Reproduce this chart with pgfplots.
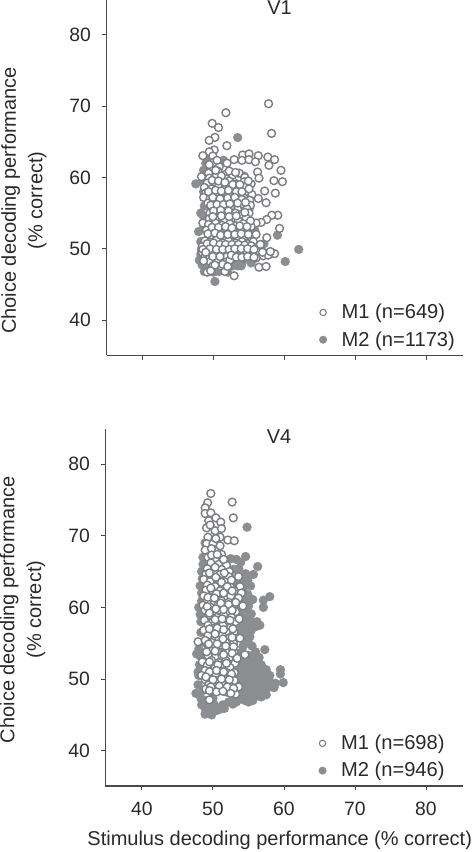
\documentclass[border=0pt]{standalone}
\usepackage{pgfplots}
\pgfplotsset{compat=1.18}
\usepackage{fontspec}
\setmainfont{Liberation Sans}
\definecolor{txt}{HTML}{2A2A2A}
\definecolor{axc}{HTML}{4A4A4A}
\definecolor{gfill}{HTML}{8B8D90}
\definecolor{wline}{HTML}{7C7E82}
\pgfplotsset{
 panel/.style={
  scale only axis, axis lines=left, axis line style={draw=axc,line width=0.8pt,-},
  tick style={draw=axc,line width=0.7pt}, tick align=outside, major tick length=3.2pt,
  xtick={40,50,60,70,80}, ytick={40,50,60,70,80},
  tick label style={font=\fontsize{14.5}{16}\selectfont,text=txt,/pgf/number format/assume math mode=true},
  yticklabel style={xshift=-5pt},
  xticklabel style={yshift=-5pt},
  label style={font=\fontsize{15}{20}\selectfont,text=txt},
  ylabel style={align=center,anchor=center,rotate=0},
  clip=false,
  legend cell align=left,
  legend style={draw=none,fill=none,font=\fontsize{15.1}{16}\selectfont,text=txt,row sep=4.0pt,inner sep=0pt},
 },
 wpt/.style={only marks,mark=*,mark size=2.95pt,mark options={draw=wline,fill=white,line width=1.05pt}},
 gpt/.style={only marks,mark=*,mark size=3.4pt,mark options={draw=gfill,fill=gfill,line width=0.1pt}},
 wleg/.style={only marks,mark=*,mark size=2.4pt,mark options={draw=wline,fill=white,line width=0.8pt}},
 gleg/.style={only marks,mark=*,mark size=2.9pt,mark options={draw=gfill,fill=gfill,line width=0.1pt}},
}
\begin{document}
\begin{tikzpicture}
\path[use as bounding box] (0,0) rectangle (354pt,639pt);
\begin{axis}[panel, at={(79.9pt,372.4pt)}, anchor=south west, width=267pt, height=266.6pt,
  xmin=34.93, xmax=85.07, ymin=35.02, ymax=84.9, xticklabels={},
  ylabel={Choice decoding performance\\(\% correct)},
  ylabel style={at={(axis description cs:-0.232,0.436)}},
  legend style={at={(axis cs:64.85,35.65)},anchor=south west}]
\addlegendimage{wleg}\addlegendentry{\hspace*{9pt}M1 (n=649)}
\addlegendimage{gleg}\addlegendentry{\hspace*{9pt}M2 (n=1173)}
\addplot[gpt,forget plot] table {
53.4 65.6
47.5 59.1
51.4 62.4
54.3 60.2
48.6 61.0
48.5 54.7
47.9 52.4
59.0 51.9
62.0 49.9
60.1 48.2
50.2 45.4
48.0 48.4
48.4 47.7
48.9 47.0
50.4 47.2
51.5 47.0
54.0 48.0
55.3 48.0
57.1 50.7
48.2 49.2
48.7 46.8
48.6 58.0
48.9 62.0
48.7 56.0
49.0 54.0
48.5 50.5
49.6 47.3
52.7 47.6
53.4 47.6
55.8 52.6
56.6 50.0
52.0 55.0
53.0 58.0
55.0 55.5
48.4 59.5
48.7 60.0
48.2 51.0
48.3 49.9
48.6 53.0
48.2 55.0
49.5 62.5
50.0 46.7
50.8 46.8
52.0 46.7
53.9 47.6
};
\addplot[wpt,forget plot] table {
57.75 70.34
51.74 69.08
49.81 67.59
50.7 67.0
58.17 66.18
50.19 65.62
49.39 65.2
51.88 64.45
50.1 63.85
49.4 63.6
48.5 63.05
49.9 63.0
54.1 63.15
55.0 63.3
56.3 63.05
57.65 62.86
58.6 62.5
57.8 61.7
59.5 61.0
56.2 60.76
56.4 59.9
58.5 59.55
59.7 59.4
58.7 57.8
57.2 58.1
56.3 57.05
57.4 56.45
59.05 54.7
58.2 54.7
57.5 54.1
56.7 53.7
59.3 52.85
57.5 51.55
50.0 62.1
51.9 62.0
52.9 62.5
54.0 62.4
55.0 62.5
55.9 62.2
50.8 61.5
49.6 61.1
49.3 60.6
50.6 60.9
51.6 60.4
53.6 60.6
48.3 60.1
49.4 59.9
50.4 60.2
51.8 59.8
52.7 60.3
54.4 60.0
49.1 59.2
50.1 59.4
51.1 59.0
52.2 59.5
53.2 59.1
54.3 59.4
55.3 59.1
48.7 58.6
49.7 58.4
50.7 58.7
51.5 58.3
52.6 58.7
53.6 58.4
54.6 58.7
48.9 57.8
50.1 57.6
50.9 58.0
52.0 57.7
53.0 58.0
54.4 57.8
55.4 57.6
48.6 57.2
49.5 57.0
50.3 57.3
51.4 56.9
52.5 57.3
53.5 56.9
54.3 57.1
55.1 56.8
49.2 56.4
50.0 56.6
51.0 56.3
51.8 56.6
52.9 56.2
54.1 56.3
55.2 56.1
49.7 55.7
50.6 55.9
51.5 55.6
52.4 55.7
53.4 55.5
54.7 55.6
49.5 55.0
50.5 55.2
51.4 54.9
52.6 55.0
53.8 54.8
55.0 55.0
49.4 54.2
50.7 54.4
51.6 54.0
52.8 54.3
53.5 53.9
54.6 54.3
56.0 53.6
48.5 53.6
49.3 53.4
50.3 53.6
51.2 53.3
52.3 53.5
53.2 53.2
54.2 53.5
55.3 53.1
49.0 52.6
50.0 52.8
51.0 52.5
51.8 52.8
52.8 52.4
53.8 52.7
54.8 52.3
49.5 51.8
50.5 52.0
51.3 51.6
52.5 51.9
53.5 51.5
54.4 51.8
55.3 51.6
56.0 52.0
48.8 51.1
49.6 50.9
50.4 51.2
51.3 50.8
52.1 51.1
53.1 50.8
54.0 51.0
54.8 50.7
55.6 51.0
48.4 50.3
49.1 50.1
50.0 50.4
50.9 50.0
51.8 50.3
52.6 50.1
53.4 50.3
54.3 50.1
55.2 50.4
56.0 50.1
48.4 49.5
49.2 49.4
49.9 49.7
50.6 49.3
51.4 49.6
52.2 49.3
53.0 49.6
53.9 49.4
54.7 49.6
55.4 49.3
56.5 49.6
57.2 49.4
58.2 49.4
58.6 49.3
48.8 48.9
49.5 48.7
50.3 48.9
51.1 48.7
51.9 48.9
52.7 48.6
53.5 48.9
54.3 48.7
55.3 48.9
56.0 48.7
57.0 49.0
57.7 49.1
49.5 48.2
50.6 48.2
51.7 48.1
52.3 48.4
49.1 46.7
51.6 46.8
52.9 46.2
56.4 47.4
57.4 47.5
49.9 47.6
51.0 47.6
50.5 62.4
49.4 61.8
50.3 61.0
51.1 60.2
52.2 60.9
53.1 60.7
49.8 59.6
50.7 59.5
51.6 59.3
52.7 59.0
53.7 59.0
54.9 59.5
49.3 58.0
50.3 58.2
51.1 58.1
52.1 58.2
53.2 58.0
54.0 58.0
55.0 58.4
49.9 57.2
50.9 57.0
52.0 57.1
53.0 57.2
54.0 56.9
49.6 56.1
50.5 56.2
51.4 56.2
52.3 56.3
53.4 56.4
54.5 56.5
50.0 55.3
51.0 55.4
52.1 55.3
53.1 55.0
54.4 55.1
49.9 54.5
51.1 54.6
52.2 54.5
53.2 54.6
55.2 53.9
49.8 53.0
50.7 53.0
51.7 53.1
52.6 52.9
53.7 53.2
54.7 53.1
49.2 52.1
50.2 52.2
51.0 51.9
52.0 52.0
53.0 52.0
53.9 52.1
54.9 52.0
49.1 50.7
50.0 50.8
50.9 50.6
51.7 50.6
52.6 50.6
53.5 50.6
54.4 50.5
55.3 50.4
56.6 50.6
49.5 50.0
50.4 49.9
51.3 49.9
52.2 49.9
53.0 50.0
53.9 50.0
54.8 50.0
55.7 49.9
48.6 48.3
49.9 48.9
50.9 48.9
52.5 49.1
53.2 48.8
54.0 48.8
54.8 48.9
55.7 48.8
56.9 49.5
58.0 49.6
50.2 47.7
51.3 47.8
52.0 47.5
49.6 46.9
48.5 49.9
48.9 49.5
};
\node[font=\fontsize{15}{16}\selectfont,text=txt] at (axis cs:59.3,83.85) {V1};
\end{axis}
\begin{axis}[panel, at={(79.1pt,49.5pt)}, anchor=south west, width=267.8pt, height=267.75pt,
  xmin=34.86, xmax=85.15, ymin=35.07, ymax=84.9,
  xlabel={Stimulus decoding performance (\% correct)},
  xlabel style={at={(axis description cs:0.488,-0.1525)},anchor=center},
  ylabel={Choice decoding performance\\(\% correct)},
  ylabel style={at={(axis description cs:-0.232,0.494)}},
  legend style={at={(axis cs:64.85,35.65)},anchor=south west}]
\addlegendimage{wleg}\addlegendentry{\hspace*{9pt}M1 (n=698)}
\addlegendimage{gleg}\addlegendentry{\hspace*{9pt}M2 (n=946)}
\addplot[gpt,forget plot] table {
54.8 71.2
54.6 67.1
56.3 65.7
55.7 64.6
53.3 66.7
52.5 66.8
53.65 65.4
54.9 63.8
55.3 63.0
54.3 62.8
58.0 61.5
57.1 61.0
57.1 60.0
55.6 61.1
55.4 59.1
54.6 59.8
54.0 58.6
56.2 58.0
56.6 57.5
55.5 57.8
54.5 56.8
55.2 55.9
55.0 55.0
57.3 54.1
56.0 53.8
55.0 53.3
56.5 53.0
59.5 51.3
59.5 50.7
59.9 49.5
58.8 49.4
58.0 50.5
57.5 51.3
56.8 52.0
56.0 52.5
55.2 52.0
54.5 52.0
54.0 51.5
54.8 51.0
55.6 51.0
56.4 51.0
57.2 50.6
54.0 50.5
54.8 50.0
55.6 50.0
56.4 50.0
57.2 50.0
58.0 49.6
53.8 49.5
54.6 49.2
55.4 49.2
56.2 49.2
57.0 49.2
57.8 48.8
58.6 48.8
54.0 48.6
54.8 48.4
55.6 48.4
56.4 48.4
57.2 48.2
53.5 47.9
54.4 47.7
55.2 47.6
56.0 47.6
56.8 47.5
55.0 46.8
53.0 47.2
52.2 46.8
51.4 46.4
51.0 45.8
50.2 46.4
49.4 46.0
48.9 45.1
49.8 45.0
47.6 48.0
48.6 48.4
47.7 53.5
48.2 53.2
48.2 55.0
48.1 52.0
48.0 50.5
48.3 58.0
48.0 60.0
48.4 62.0
48.5 64.0
48.6 66.0
48.9 69.0
52.8 64.0
53.5 62.0
53.5 60.0
53.8 57.0
52.8 53.5
53.0 55.5
48.8 47.0
50.0 47.3
53.6 52.5
54.2 53.0
54.8 52.6
55.6 52.8
56.2 51.8
57.0 51.4
53.4 51.0
53.3 50.0
53.2 49.0
53.0 48.4
53.8 47.2
54.5 47.0
55.6 47.0
54.2 49.9
55.0 49.5
55.8 49.6
56.6 49.6
57.4 49.5
54.4 50.6
55.2 50.5
56.0 50.5
56.8 50.5
54.3 48.9
55.1 48.8
55.9 48.8
56.7 48.8
57.4 48.8
58.2 49.1
54.4 48.2
55.2 48.1
56.0 48.0
56.8 47.9
57.5 47.8
54.0 59.6
54.8 58.6
55.2 58.2
55.9 57.9
54.9 57.3
54.2 57.7
54.0 56.0
54.4 55.4
55.4 56.8
56.0 57.3
55.0 60.2
54.0 61.0
54.7 61.0
54.6 64.7
54.0 64.0
53.5 63.2
53.9 66.3
52.9 65.3
54.2 63.2
54.9 61.8
54.2 54.5
54.0 53.7
55.5 54.6
56.2 53.2
48.3 56.5
48.2 59.0
48.4 60.9
48.2 63.0
48.6 67.0
48.4 65.0
47.9 51.0
47.9 49.2
48.0 54.2
48.9 45.9
49.4 45.3
50.5 45.6
51.6 45.9
52.8 46.5
53.3 46.8
48.3 47.3
48.4 46.4
};
\addplot[wpt,forget plot] table {
49.7 75.9
52.7 74.7
49.25 74.6
48.9 73.9
52.86 72.5
48.9 73.1
49.7 73.2
50.4 72.5
51.1 71.9
49.4 72.1
49.1 71.1
50.3 70.7
51.2 71.0
51.0 69.8
49.3 69.8
52.1 69.4
53.0 69.3
49.1 68.9
50.0 68.9
48.9 68.0
49.8 68.2
51.0 68.6
51.2 67.4
49.3 67.0
50.3 66.6
49.7 66.2
50.8 66.0
51.9 65.9
49.2 65.4
50.2 65.1
51.2 65.3
52.3 65.0
49.0 64.6
50.0 64.3
51.0 64.6
52.2 64.3
53.6 64.3
48.7 63.9
49.6 63.6
50.6 63.9
51.6 63.6
52.6 63.8
49.2 63.1
50.3 62.9
51.3 63.2
52.5 62.8
53.8 62.9
49.0 62.4
50.0 62.1
51.0 62.3
52.0 62.0
53.0 62.3
54.0 62.0
48.7 61.6
49.6 61.4
50.6 61.6
51.6 61.3
52.5 61.6
53.6 61.3
49.2 60.9
50.2 60.6
51.2 60.9
52.2 60.7
48.6 60.3
49.7 60.0
50.7 60.3
51.7 60.0
52.8 60.1
54.2 60.2
48.9 59.6
50.0 59.3
51.0 59.6
52.2 59.3
53.2 59.4
49.4 58.9
50.5 58.6
51.5 58.9
52.6 58.6
48.8 58.2
49.9 57.9
51.0 58.2
52.0 57.9
53.2 58.0
49.3 57.5
50.4 57.2
51.4 57.5
52.5 57.2
48.7 56.8
49.8 56.5
50.8 56.8
51.9 56.5
53.0 56.6
49.3 56.1
50.3 55.8
51.3 56.1
52.4 55.8
53.8 55.7
47.9 55.2
48.9 55.4
49.8 55.1
50.8 55.4
51.8 55.1
52.9 55.0
49.3 54.7
50.3 54.4
51.3 54.7
52.3 54.3
49.8 53.9
50.8 53.6
51.8 53.9
53.0 53.7
54.5 53.4
49.3 53.3
50.3 53.0
51.3 53.2
52.3 53.0
48.5 52.4
49.8 52.6
50.8 52.3
51.8 52.6
53.1 52.2
49.2 51.9
50.3 51.6
51.3 51.9
52.4 51.6
48.9 51.2
49.9 50.9
50.9 51.2
51.9 50.9
53.0 50.9
48.4 50.5
49.4 50.2
50.4 50.5
51.4 50.2
52.4 50.3
48.9 49.9
49.9 49.6
50.9 49.9
51.9 49.6
53.0 49.8
49.4 49.2
50.4 48.9
51.4 49.2
52.4 48.9
53.6 48.9
49.0 48.6
49.9 48.3
50.9 48.5
51.9 48.2
53.2 47.9
49.5 47.1
49.6 71.5
50.4 69.6
49.8 67.3
50.6 67.4
51.5 66.7
50.3 65.6
51.6 64.8
49.5 64.8
50.4 64.2
51.2 63.5
52.0 62.9
49.7 62.7
50.5 61.9
51.5 62.0
52.7 62.3
49.3 61.4
50.2 61.3
51.1 60.6
52.2 60.4
53.2 60.7
49.2 60.1
50.4 59.8
51.5 59.7
52.7 59.6
49.5 59.2
50.3 58.3
51.3 58.4
52.4 58.2
53.7 58.4
49.5 57.0
50.6 57.1
51.5 56.9
52.8 57.0
50.3 56.3
51.4 55.6
52.7 55.8
49.4 54.9
50.6 54.9
51.8 54.6
52.9 54.5
49.1 53.8
50.3 53.9
51.5 53.4
52.7 53.6
49.5 52.4
50.7 52.0
51.9 52.2
53.4 52.9
49.5 51.0
50.5 51.2
51.5 51.0
52.6 50.7
49.0 50.3
50.0 49.9
51.2 50.0
52.3 49.9
49.7 48.9
50.9 49.0
52.0 48.9
52.9 48.7
49.5 48.4
50.5 48.2
51.4 48.3
52.5 48.0
};
\node[font=\fontsize{15}{16}\selectfont,text=txt] at (axis cs:59.3,83.9) {V4};
\end{axis}
\end{tikzpicture}
\end{document}
